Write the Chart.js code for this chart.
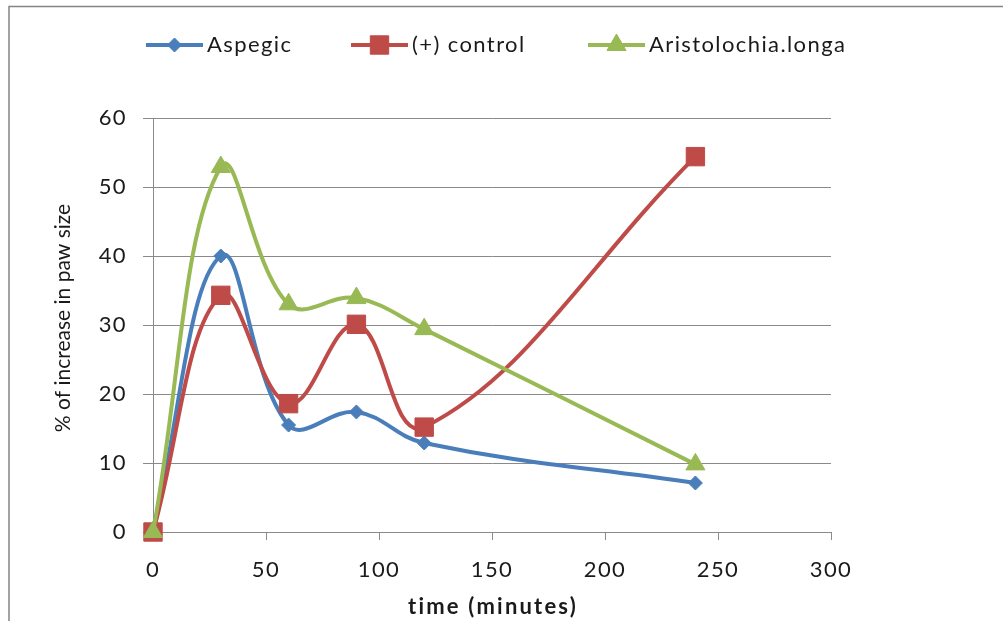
<!DOCTYPE html>
<html>
<head>
<meta charset="utf-8">
<script src="https://cdn.jsdelivr.net/npm/chart.js@4"></script>
<style>
  html, body { margin: 0; padding: 0; background: #ffffff; }
  #wrap { width: 1003px; height: 621px; position: relative; }
</style>
</head>
<body>
<div id="wrap"><canvas id="chart" width="1003" height="621"></canvas></div>
<script>
// Time points (minutes) and % increase in paw size per treatment
const minutes = [0, 30, 60, 90, 120, 240];
const aspegic = [0, 40, 15.5, 17.4, 12.9, 7.1];
const positiveControl = [0, 34.3, 18.6, 30.1, 15.2, 54.4];
const aristolochia = [0, 52.9, 33.0, 33.9, 29.4, 9.8];
const seriesNames = ['Aspegic', '(+) control', 'Aristolochia.longa'];

const xTicks = { min: 0, max: 300, step: 50 };
const yTicks = { min: 0, max: 60, step: 10 };
const xTitle = 'time (minutes)';
const yTitle = '% of increase in paw size';

const FONT = 'Lato, "Open Sans", sans-serif';
const GRID = '#8a8a8a';
const INK = '#1a1a1a';
const TRACKING = '1.4px';

function pairs(values) {
  return minutes.map((m, i) => ({ x: m, y: values[i] }));
}

// White background, outer frame and text tracking for the whole drawing pass
const framePlugin = {
  id: 'frame',
  beforeDraw(chart) {
    const ctx = chart.ctx;
    ctx.letterSpacing = TRACKING;
    ctx.save();
    ctx.fillStyle = '#ffffff';
    ctx.fillRect(0, 0, chart.width, chart.height);
    ctx.strokeStyle = '#858585';
    ctx.lineWidth = 1.5;
    ctx.strokeRect(9, 6.5, chart.width + 20, chart.height + 20);
    ctx.restore();
  }
};

// Axis titles
const axisTitles = {
  id: 'axisTitles',
  afterDraw(chart) {
    const ctx = chart.ctx;
    const area = chart.chartArea;
    ctx.save();
    ctx.fillStyle = INK;
    ctx.textAlign = 'center';
    ctx.textBaseline = 'middle';

    ctx.letterSpacing = '2.2px';
    ctx.font = 'bold 22px ' + FONT;
    ctx.fillText(xTitle, (area.left + area.right) / 2 + 1, 607);

    ctx.letterSpacing = '0px';
    ctx.font = '21px ' + FONT;
    ctx.translate(63, 318);
    ctx.rotate(-Math.PI / 2);
    ctx.fillText(yTitle, 0, 0);
    ctx.restore();
  }
};

// Legend row: line sample with marker, followed by series name
const lineLegend = {
  id: 'lineLegend',
  afterDraw(chart) {
    const ctx = chart.ctx;
    const slots = [146, 351, 588];
    const y = 45;
    ctx.save();
    chart.data.datasets.forEach((ds, i) => {
      const x0 = slots[i], x1 = x0 + 57;
      ctx.strokeStyle = ds.borderColor;
      ctx.lineWidth = ds.borderWidth;
      ctx.beginPath();
      ctx.moveTo(x0, y);
      ctx.lineTo(x1, y);
      ctx.stroke();
      ctx.fillStyle = ds.pointBackgroundColor;
      ctx.strokeStyle = ds.pointBorderColor;
      ctx.lineWidth = 1;
      Chart.helpers.drawPoint(ctx, {
        pointStyle: ds.pointStyle,
        radius: ds.pointRadius,
        rotation: 0,
        borderWidth: 1
      }, (x0 + x1) / 2, y);
      ctx.fillStyle = INK;
      ctx.font = '22px ' + FONT;
      ctx.textBaseline = 'middle';
      ctx.textAlign = 'left';
      ctx.fillText(ds.label, x1 + 4, y);
    });
    ctx.restore();
  }
};

function makeSet(label, values, color, style, radius, order) {
  return {
    label: label,
    data: pairs(values),
    borderColor: color,
    backgroundColor: color,
    borderWidth: 4,
    pointStyle: style,
    pointRadius: radius,
    pointHoverRadius: radius,
    pointBackgroundColor: color,
    pointBorderColor: color,
    pointBorderWidth: 1,
    tension: 0.4,
    fill: false,
    clip: false,
    order: order
  };
}

new Chart(document.getElementById('chart'), {
  type: 'line',
  data: {
    datasets: [
      makeSet(seriesNames[0], aspegic, '#4A7EBB', 'rectRot', 7, 3),
      makeSet(seriesNames[1], positiveControl, '#BE4B48', 'rect', 13, 2),
      makeSet(seriesNames[2], aristolochia, '#98B954', 'triangle', 11, 1)
    ]
  },
  options: {
    responsive: false,
    animation: false,
    layout: { padding: { left: 10, top: 118, right: 172, bottom: 0 } },
    plugins: {
      legend: { display: false },
      tooltip: { enabled: false }
    },
    scales: {
      x: {
        type: 'linear',
        min: xTicks.min,
        max: xTicks.max,
        afterFit(scale) { scale.height = 89; },
        ticks: {
          stepSize: xTicks.step,
          color: INK,
          font: { family: FONT, size: 22 },
          padding: 17,
          maxRotation: 0
        },
        grid: { drawOnChartArea: false, drawTicks: true, tickLength: 8, color: GRID, lineWidth: 1 },
        border: { color: GRID, width: 1 }
      },
      y: {
        min: yTicks.min,
        max: yTicks.max,
        afterFit(scale) { scale.width = 143; },
        ticks: {
          stepSize: yTicks.step,
          color: INK,
          font: { family: FONT, size: 22 },
          padding: 16
        },
        grid: { drawOnChartArea: true, drawTicks: true, tickLength: 10, color: GRID, lineWidth: 1 },
        border: { color: GRID, width: 1 }
      }
    }
  },
  plugins: [framePlugin, lineLegend, axisTitles]
});
</script>
</body>
</html>
